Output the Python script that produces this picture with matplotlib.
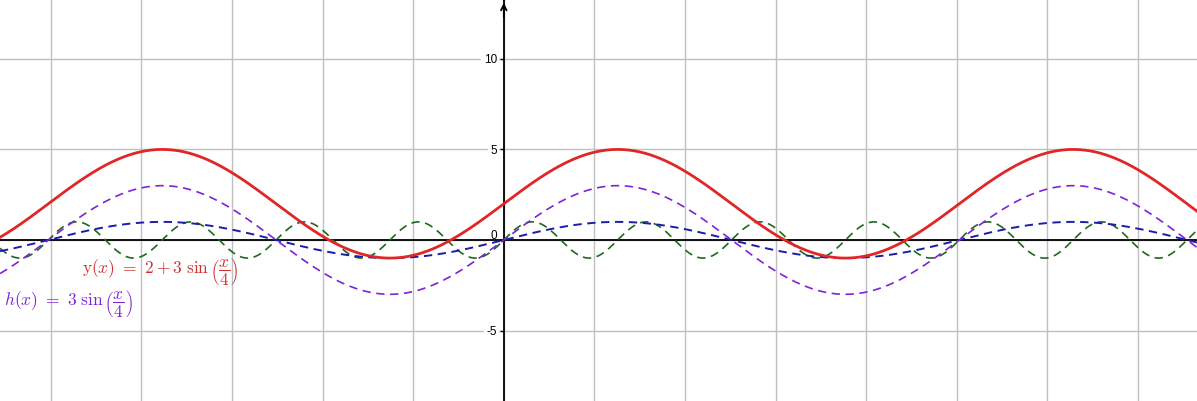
import numpy as np
import matplotlib
matplotlib.use("Agg")
import matplotlib.pyplot as plt
from matplotlib.transforms import ScaledTranslation

# curve definitions: y = offset + amp * sin(x / div)
names = ["y", "h", "blue", "green"]
offsets = [2, 0, 0, 0]
amps = [3, 3, 1, 1]
divs = [4, 4, 4, 1]
colors = ["#e02626", "#7f22d8", "#1c1ca8", "#1d6a1d"]
styles = ["solid", "dashed", "dashed", "dashed"]
widths = [2.0, 1.2, 1.4, 1.2]

xlim = (-27.8, 38.25)
ylim = (-8.89, 13.25)
xgrid = list(range(-25, 40, 5))
yticks = [-5, 0, 5, 10]
ytick_labels = ["-5", "0", "5", "10"]

y_label = r"$\mathrm{y}(x)\ =\ 2 + 3\ \sin\left(\dfrac{x}{4}\right)$"
h_label = r"$h(x)\ =\ 3\ \sin\left(\dfrac{x}{4}\right)$"

plt.rcParams["mathtext.fontset"] = "cm"
plt.rcParams["lines.scale_dashes"] = False

fig = plt.figure(figsize=(11.97, 4.01), dpi=100)
ax = fig.add_axes([0, 0, 1, 1])
ax.set_xlim(*xlim)
ax.set_ylim(*ylim)

xs = np.linspace(xlim[0], xlim[1], 2000)
# draw dashed ones first, red on top
order = [3, 2, 1, 0]
for i in order:
    ys = offsets[i] + amps[i] * np.sin(xs / divs[i])
    kw = dict(color=colors[i], lw=widths[i], zorder=3 + (i == 0))
    if styles[i] == "dashed":
        kw["dashes"] = (6, 4)
    ax.plot(xs, ys, **kw)

# axes through the origin
for side in ["top", "right"]:
    ax.spines[side].set_visible(False)
ax.spines["left"].set_position(("data", 0))
ax.spines["bottom"].set_position(("data", 0))
ax.spines["left"].set_linewidth(1.3)
ax.spines["bottom"].set_linewidth(1.3)
ax.spines["left"].set_zorder(2)
ax.spines["bottom"].set_zorder(2)
ax.annotate("", xy=(0, 1.0), xycoords=("data", "axes fraction"),
            xytext=(0, 0.95), textcoords=("data", "axes fraction"),
            arrowprops=dict(arrowstyle="->", lw=1.3, color="black",
                            mutation_scale=10))

ax.set_xticks(xgrid)
ax.set_xticklabels([])
ax.tick_params(axis="x", length=0)
ax.set_yticks(yticks)
ax.set_yticklabels(ytick_labels, fontsize=8.5, family="Liberation Sans")
ax.tick_params(axis="y", direction="out", length=3, width=1, pad=2)
for lbl in ax.get_yticklabels():
    lbl.set_bbox(dict(facecolor="white", edgecolor="none", pad=1.5))
    if lbl.get_text() == "0":
        lbl.set_transform(lbl.get_transform()
                          + ScaledTranslation(0, 4 / 72, fig.dpi_scale_trans))

ax.grid(True, color="#c0c0c0", lw=1.0, zorder=0)
ax.set_axisbelow(True)

ax.text(-23.3, -1.75, y_label, color="#d03030", fontsize=12.5, va="center")
ax.text(-27.6, -3.5, h_label, color="#7f22d8", fontsize=12.5, va="center")

fig.savefig("out.png", dpi=100)
